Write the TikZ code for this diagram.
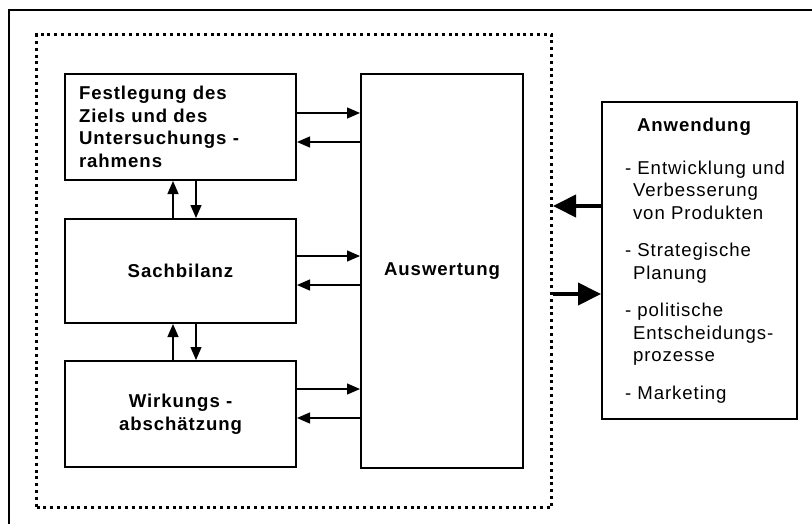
\documentclass[tikz,border=0pt]{standalone}
\usepackage{fontspec}
\setmainfont[LetterSpace=5]{Liberation Sans}
\usetikzlibrary{arrows.meta, positioning, fit, calc}

\begin{document}
\begin{tikzpicture}[
    node distance=18.5pt,
    font=\fontsize{9.3pt}{11.25pt}\selectfont,
    block/.style={rectangle, draw, line width=1pt, text width=101.5pt, inner xsep=7pt, align=center, minimum height=53pt, font=\fontsize{9.3pt}{11.25pt}\selectfont\bfseries},
    anwbox/.style={rectangle, draw, line width=1pt, text width=97.5pt, inner xsep=0pt, align=left, minimum height=158.5pt},
    dotframe/.style={draw, line width=1.5pt, dash pattern=on 1.5pt off 1.9pt, inner xsep=13.75pt, inner ysep=19.25pt},
    line/.style={draw, -{Triangle[length=6.5pt, width=5.5pt]}, line width=0.65pt},
    bigline/.style={draw, -{Triangle[length=11.5pt, width=11pt]}, line width=2pt},
]
\useasboundingbox (0,0) rectangle (406pt,-262pt);
\draw [line width=0.85pt] (406pt,-5pt) -- (4.5pt,-5pt) -- (4.5pt,-262pt);

\node [block, align=left, anchor=north west] (ziel) at (32pt,-36.5pt) {Festlegung des\\ Ziels und des\\ Untersuchungs -\\ rahmens};
\node [block, minimum height=52pt, below=of ziel] (sach) {Sachbilanz};
\node [block, below=18pt of sach] (wirk) {Wirkungs -\\ abschätzung};
\node [block, text width=81pt, inner xsep=0pt, minimum height=197pt, right=31.5pt of ziel.north east, anchor=north west] (ausw) {Auswertung};

\node [dotframe, fit=(ziel)(ausw)(wirk)] (system) {};

\node [anwbox, below right=34pt and 24pt of system.north east] (anw) {%
\hspace*{17.5pt}\textbf{Anwendung}\\[10pt]
\hspace*{11.5pt}- Entwicklung und\\
\hspace*{15.5pt}Verbesserung\\
\hspace*{15.5pt}von Produkten\\[7.5pt]
\hspace*{11.5pt}- Strategische\\
\hspace*{15.5pt}Planung\\[7.5pt]
\hspace*{11.5pt}- politische\\
\hspace*{15.5pt}Entscheidungs-\\
\hspace*{15.5pt}prozesse\\[7.5pt]
\hspace*{11.5pt}- Marketing};

\path [line] ([yshift=7pt]ziel.east) -- ([yshift=7pt]ziel.east -| ausw.west);
\path [line] ([yshift=-7.5pt]ziel.east -| ausw.west) -- ([yshift=-7.5pt]ziel.east);
\path [line] ([yshift=7.5pt]sach.east) -- ([yshift=7.5pt]sach.east -| ausw.west);
\path [line] ([yshift=-7pt]sach.east -| ausw.west) -- ([yshift=-7pt]sach.east);
\path [line] ([yshift=12.5pt]wirk.east) -- ([yshift=12.5pt]wirk.east -| ausw.west);
\path [line] ([yshift=-2pt]wirk.east -| ausw.west) -- ([yshift=-2pt]wirk.east);

\path [line] ([xshift=-3.75pt]sach.north) -- ([xshift=-3.75pt]ziel.south);
\path [line] ([xshift=7.75pt]ziel.south) -- ([xshift=7.75pt]sach.north);
\path [line] ([xshift=-3.75pt]wirk.north) -- ([xshift=-3.75pt]sach.south);
\path [line] ([xshift=7.75pt]sach.south) -- ([xshift=7.75pt]wirk.north);

\coordinate (anwin) at ($(anw.north west)+(0,-52.5pt)$);
\coordinate (anwout) at ($(anw.north west)+(0,-96.5pt)$);
\path [bigline] (anwin) -- (anwin -| system.east);
\path [bigline] (anwout -| system.east) -- (anwout);
\end{tikzpicture}
\end{document}
